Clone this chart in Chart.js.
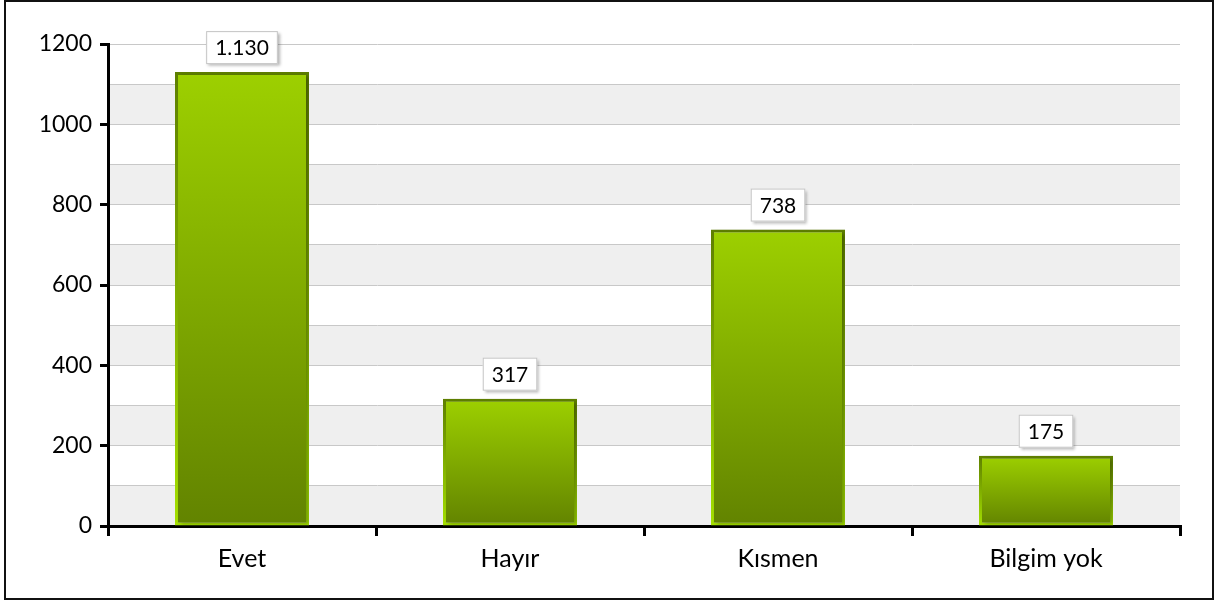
<!DOCTYPE html>
<html>
<head>
<meta charset="utf-8">
<script src="https://cdn.jsdelivr.net/npm/chart.js@4.4.1/dist/chart.umd.min.js"></script>
<style>
  html, body { margin:0; padding:0; background:#fff; }
  #frame { position:absolute; left:4px; top:0; width:1206px; height:596px; border:2px solid #111; }
  canvas { display:block; }
</style>
</head>
<body>
<div id="frame"><canvas id="chart" width="1206" height="596"></canvas></div>
<script>
const categories = ["Evet", "Hayır", "Kısmen", "Bilgim yok"];
const values = [1130, 317, 738, 175];
const yMax = 1200;
const yStep = 100;

const FONT = "Lato, 'Open Sans', sans-serif";

function formatTR(n){
    return n.toString().replace(/\B(?=(\d{3})+(?!\d))/g, ".");
}

// gray / white bands behind the grid
const bandsPlugin = {
    id:"bands",
    beforeDraw(chart){
        const {ctx, chartArea} = chart;
        const y = chart.scales.y;
        ctx.save();
        ctx.fillStyle = "#efefef";
        for(let v = 0; v < yMax; v += 2*yStep){
            const top = y.getPixelForValue(v + yStep);
            const bottom = y.getPixelForValue(v);
            ctx.fillRect(chartArea.left, top, chartArea.right - chartArea.left, bottom - top);
        }
        ctx.restore();
    }
};

const shadowPlugin = {
    id:"barShadow",
    beforeDatasetDraw(chart){
        const ctx = chart.ctx;
        ctx.save();
        ctx.shadowColor = "rgba(0,0,0,0.28)";
        ctx.shadowBlur = 4;
        ctx.shadowOffsetX = 3;
        ctx.shadowOffsetY = 1;
    },
    afterDatasetDraw(chart){
        chart.ctx.restore();
    }
};

const labelPlugin = {
    id:"valueLabels",
    afterDatasetsDraw(chart){
        const ctx = chart.ctx;
        const meta = chart.getDatasetMeta(0);
        ctx.save();
        ctx.font = "21px " + FONT;
        ctx.textAlign = "center";
        ctx.textBaseline = "middle";
        meta.data.forEach((bar, i)=>{
            const text = formatTR(values[i]);
            const w = ctx.measureText(text).width + 18;
            const h = 33;
            const x = bar.x - w/2;
            const yb = bar.y - 8;
            ctx.save();
            ctx.shadowColor = "rgba(0,0,0,0.3)";
            ctx.shadowBlur = 3;
            ctx.shadowOffsetX = 2;
            ctx.shadowOffsetY = 2;
            ctx.fillStyle = "#fff";
            ctx.fillRect(x, yb - h, w, h);
            ctx.restore();
            ctx.strokeStyle = "#c4c4c4";
            ctx.lineWidth = 1;
            ctx.strokeRect(x + 0.5, yb - h + 0.5, w - 1, h - 1);
            ctx.fillStyle = "#000";
            ctx.fillText(text, bar.x, yb - h/2 + 1);
        });
        ctx.restore();
    }
};

function barGradient(c, top, bottom){
    const chart = c.chart;
    if(!chart.chartArea || !chart.scales.y) return top;
    const y = chart.scales.y;
    const y0 = y.getPixelForValue(0);
    const y1 = y.getPixelForValue(c.raw);
    const g = chart.ctx.createLinearGradient(0, y1, 0, y0);
    g.addColorStop(0, top);
    g.addColorStop(1, bottom);
    return g;
}

new Chart(document.getElementById("chart"),{
    type:"bar",
    data:{
        labels:categories,
        datasets:[{
            data:values,
            backgroundColor:c => barGradient(c, "#9dd000", "#628300"),
            borderColor:c => barGradient(c, "#5e7f00", "#a4e000"),
            borderWidth:3,
            borderSkipped:false,
            categoryPercentage:1,
            barPercentage:0.5
        }]
    },
    plugins:[bandsPlugin, shadowPlugin, labelPlugin],
    options:{
        responsive:false,
        animation:false,
        layout:{ padding:{ left:0, top:42, right:32, bottom:0 } },
        plugins:{
            legend:{ display:false },
            tooltip:{ enabled:false }
        },
        scales:{
            x:{
                offset:true,
                border:{ display:true, color:"#000", width:3 },
                grid:{
                    offset:true,
                    drawOnChartArea:false,
                    color:"#000",
                    lineWidth:3,
                    tickLength:10
                },
                ticks:{
                    color:"#000",
                    padding:8,
                    font:{ family:FONT, size:25 }
                },
                afterFit(scale){ scale.height = 72; }
            },
            y:{
                min:0,
                max:yMax,
                border:{ display:true, color:"#000", width:3 },
                grid:{
                    color:"#c8c8c8",
                    lineWidth:1,
                    tickLength:8,
                    tickWidth:3,
                    tickColor:c => (c.tick && c.tick.value % 200 === 0) ? "#000" : "rgba(0,0,0,0)"
                },
                ticks:{
                    stepSize:yStep,
                    color:"#000",
                    padding:8,
                    font:{ family:FONT, size:23 },
                    callback:v => v % 200 === 0 ? v : ""
                },
                afterFit(scale){ scale.width = 102; }
            }
        }
    }
});
</script>
</body>
</html>
